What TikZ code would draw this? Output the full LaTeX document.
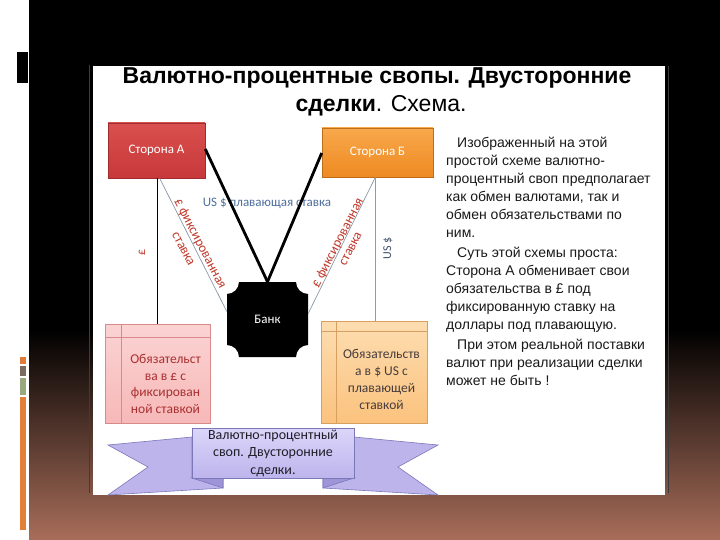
\documentclass[tikz,border=0pt]{standalone}
\usepackage{fontspec}
\setmainfont{Liberation Sans}
\newfontfamily\calfont{Carlito}
\usetikzlibrary{calc}
\definecolor{slidebrown}{HTML}{A86E5A}
\definecolor{redbox}{HTML}{C8383A}
\definecolor{redboxtop}{HTML}{D9504E}
\definecolor{orbox}{HTML}{EE8A22}
\definecolor{orboxtop}{HTML}{F8A84C}
\definecolor{pinkfill}{HTML}{F7B8B8}
\definecolor{pinktop}{HTML}{FBD3D3}
\definecolor{pinkline}{HTML}{D88A8A}
\definecolor{peachfill}{HTML}{FBC27E}
\definecolor{peachtop}{HTML}{FDDDB0}
\definecolor{peachline}{HTML}{D8A060}
\definecolor{lavtop}{HTML}{DCD6FA}
\definecolor{lavbot}{HTML}{BDB4EC}
\definecolor{lavdark}{HTML}{9E94D8}
\definecolor{lavline}{HTML}{7C78B8}
\definecolor{labred}{HTML}{C0392B}
\definecolor{labblue}{HTML}{4F6F9F}
\definecolor{labdark}{HTML}{404F6A}
\definecolor{greyline}{HTML}{8A98A8}
\definecolor{steel}{HTML}{7F9FC0}
\definecolor{obred}{HTML}{A83030}
\definecolor{obtext}{HTML}{463C3C}
\definecolor{bantext}{HTML}{1E1E28}
\definecolor{bodytext}{HTML}{191919}
\definecolor{barorange}{HTML}{E07B39}
\definecolor{bargrey}{HTML}{7A6A60}
\definecolor{bargreen}{HTML}{9AA880}
\definecolor{barorange2}{HTML}{E2803A}
\definecolor{edgegrey}{HTML}{3C3C3C}
\tikzset{
  party/.style={draw=#1!80!black, line width=0.6pt, text=white, font=\calfont\fontsize{13}{15}\selectfont, inner sep=0pt},
  obbox/.style={line width=0.7pt, inner sep=0pt},
  lab/.style={font=\calfont\fontsize{12}{13}\selectfont, inner sep=0pt, align=center},
  rotlab/.style={inner sep=0pt, text=labred, font=\calfont\fontsize{13.5}{14}\selectfont},
  thickline/.style={line width=2.8pt, black},
  thinline/.style={line width=0.7pt, greyline}
}
\begin{document}
\begin{tikzpicture}[x=1pt,y=-1pt]
\useasboundingbox (0,0) rectangle (720,540);
% slide background
\fill[white] (0,0) rectangle (720,540);
\fill[black] (29,0) rectangle (720,330);
\shade[top color=black, bottom color=slidebrown] (29,329.5) rectangle (720,540);
\fill[black] (17,52) rectangle (28,83);
\draw[white, line width=0.8pt] (28.6,52) -- (28.6,83);
\fill[barorange] (20,357) rectangle (26,364);
\fill[bargrey] (20,366) rectangle (26,376);
\fill[bargreen] (20,378) rectangle (26,395);
\fill[barorange2] (20,397) rectangle (26,530);
% white panel
\draw[line width=0.8pt, edgegrey] (89,65) -- (89,493);
\draw[line width=0.8pt, edgegrey] (668,66) -- (668,493);
\fill[white] (93,66) rectangle (665,495);

% title
\node[font=\bfseries\fontsize{23}{27}\selectfont, inner sep=0pt] (t1) at (377,78) {Валютно-процентные свопы. Двусторонние};
\node[font=\fontsize{23}{27}\selectfont, inner sep=0pt] (t2) at (381,106) {\textbf{сделки}. Схема.};

% parties
\node[party=redbox, top color=redboxtop, bottom color=redbox, minimum width=97pt, minimum height=55pt] (A) at (156.5,150.5) {Сторона А};
\node[party=orbox, top color=orboxtop, bottom color=orbox, minimum width=111pt, minimum height=49pt] (B) at (377.5,152.5) {Сторона Б};

% bank
\node[minimum width=81pt, minimum height=75pt, inner sep=0pt] (bank) at (267.5,319.5) {};
\fill[black] (239,282) -- (296,282) .. controls (296,288.6) and (301.4,294) .. (308,294)
  -- (308,345) .. controls (301.4,345) and (296,350.4) .. (296,357)
  -- (239,357) .. controls (239,350.4) and (233.6,345) .. (227,345)
  -- (227,294) .. controls (233.6,294) and (239,288.6) .. (239,282) -- cycle;
\node[text=white, font=\calfont\fontsize{13}{15}\selectfont] at (bank.center) {Банк};

% obligation boxes
\node[obbox, draw=pinkline, top color=pinktop, bottom color=pinkfill, minimum width=105pt, minimum height=99pt] (obA) at (157.5,373.5) {};
\draw[pinkline, line width=0.6pt] (121,324) -- (121,423) (105,337) -- (210,337);
\node[lab, text=obred, font=\calfont\fontsize{13.5}{16.5}\selectfont] at (165.5,384) {Обязательст\\ва в £ с\\фиксирован\\ной ставкой};
\node[obbox, draw=peachline, top color=peachtop, bottom color=peachfill, minimum width=106pt, minimum height=102pt] (obB) at (374,372) {};
\draw[peachline, line width=0.6pt] (336,321) -- (336,423) (321,331) -- (427,331);
\node[lab, text=obtext, font=\calfont\fontsize{13.5}{17}\selectfont] at (381.5,379) {Обязательств\\а в \$ US с\\плавающей\\ставкой};

% connectors
\draw[line width=0.9pt, black] ([xshift=50pt]A.south west) -- ([xshift=50pt]A.south west |- obA.north);
\draw[thinline] ([xshift=52pt]A.south west) -- ([yshift=8pt]bank.west);
\draw[line width=1.2pt, steel] ([xshift=-58pt]B.south east) -- ([xshift=-58pt]B.south east |- obB.north);
\draw[thinline] ([xshift=-58pt]B.south east) -- ([yshift=6pt]bank.east);

% labels
\node[lab, text=labblue, font=\calfont\fontsize{13}{14}\selectfont] (usd) at (267,203) {US \$ плавающая ставка};
\draw[thickline] ([yshift=1.5pt]A.east) -- (bank.north);
\draw[thickline] ([yshift=-0.5pt]B.west) -- (bank.north);
\node[lab, text=labred, rotate=90] (pound) at (142,252) {£};
\node[rotlab, rotate=-62.5] (fixL1) at (200,244) {£ фиксированная};
\node[rotlab, rotate=-62.5] (fixL2) at (183,249) {ставка};
\node[rotlab, rotate=63] (fixR1) at (338,243) {£ фиксированная};
\node[rotlab, rotate=63] (fixR2) at (351,249) {ставка};
\node[lab, text=labdark, rotate=90] (usd2) at (388,248) {US \$};

% banner
\fill[lavbot, draw=lavline, line width=0.6pt] (192,437) -- (108,445) -- (148,467) -- (108,495) -- (223,488) -- (223,478) -- (192,478) -- cycle;
\fill[lavdark, draw=lavline, line width=0.6pt] (192,478) -- (223,488) -- (223,478) -- cycle;
\fill[lavbot, draw=lavline, line width=0.6pt] (354,437) -- (438,445) -- (398,467) -- (438,495) -- (323,488) -- (323,478) -- (354,478) -- cycle;
\fill[lavdark, draw=lavline, line width=0.6pt] (354,478) -- (323,488) -- (323,478) -- cycle;
\node[draw=lavline, line width=0.6pt, top color=lavtop, bottom color=lavbot, minimum width=162pt, minimum height=50pt, inner sep=0pt] (ban) at (273,453) {};
\node[lab, font=\calfont\fontsize{14}{17.5}\selectfont, text=bantext] at (ban.center) {Валютно-процентный\\своп. Двусторонние\\сделки.};

% right text
\node[anchor=north west, inner sep=0pt, align=left, font=\fontsize{14}{18}\selectfont, text=bodytext] (txt) at (446,137) {%
\hspace*{11pt}Изображенный на этой\\
простой схеме валютно-\\
процентный своп предполагает\\
как обмен валютами, так и\\
обмен обязательствами по\\
ним.\\[2pt]
\hspace*{11pt}Суть этой схемы проста:\\
Сторона А обменивает свои\\
обязательства в £ под\\
фиксированную ставку на\\
доллары под плавающую.\\[2pt]
\hspace*{11pt}При этом реальной поставки\\
валют при реализации сделки\\
может не быть !};
\end{tikzpicture}
\end{document}
